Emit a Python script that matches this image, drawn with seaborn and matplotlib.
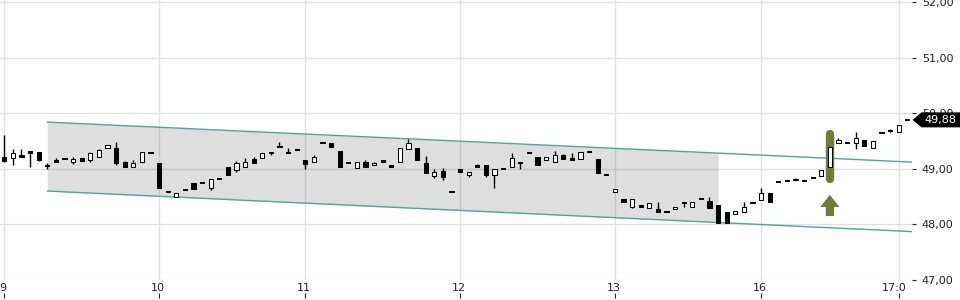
import numpy as np
import pandas as pd
import matplotlib
matplotlib.use("Agg")
import matplotlib.pyplot as plt
import seaborn as sns
from matplotlib.patches import Polygon
from matplotlib.transforms import Bbox, TransformedBbox, ScaledTranslation

# ---------------- data ----------------
open_ = [49.21, 49.19, 49.25, 49.32, 49.30, 49.07, 49.15, 49.19, 49.12, 49.19,
         49.15, 49.21, 49.37, 49.38, 49.13, 49.04, 49.13, 49.29, 49.11, 48.59,
         48.50, 48.62, 48.74, 48.75, 48.65, 48.83, 49.03, 48.97, 49.03, 49.17,
         49.19, 49.28, 49.41, 49.30, 49.34, 49.15, 49.13, 49.48, 49.46, 49.32,
         49.11, 49.01, 49.13, 49.07, 49.14, 49.07, 49.13, 49.35, 49.37, 49.10,
         48.87, 48.96, 48.59, 49.00, 48.88, 49.06, 49.07, 48.88, 49.00, 49.04,
         49.12, 49.30, 49.21, 49.15, 49.13, 49.24, 49.19, 49.17, 49.31, 49.18,
         48.89, 48.58, 48.46, 48.32, 48.33, 48.29, 48.28, 48.24, 48.27, 48.40,
         48.31, 48.46, 48.42, 48.35, 48.22, 48.18, 48.23, 48.39, 48.44, 48.56,
         48.77, 48.79, 48.81, 48.79, 48.84, 48.87, 49.04, 49.47, 49.48, 49.46,
         49.51, 49.37, 49.66, 49.69, 49.66, 49.88]
high = [49.61, 49.35, 49.35, 49.32, 49.30, 49.11, 49.19, 49.19, 49.21, 49.19,
        49.30, 49.35, 49.42, 49.49, 49.14, 49.15, 49.31, 49.29, 49.11, 48.59,
        48.56, 48.62, 48.74, 48.75, 48.81, 48.83, 49.03, 49.14, 49.19, 49.21,
        49.28, 49.31, 49.49, 49.37, 49.34, 49.15, 49.25, 49.48, 49.46, 49.32,
        49.11, 49.12, 49.16, 49.13, 49.14, 49.07, 49.37, 49.54, 49.37, 49.23,
        48.99, 49.01, 48.59, 49.00, 48.95, 49.08, 49.07, 49.00, 49.00, 49.29,
        49.13, 49.30, 49.21, 49.22, 49.32, 49.27, 49.28, 49.30, 49.32, 49.18,
        48.89, 48.63, 48.46, 48.46, 48.33, 48.38, 48.40, 48.24, 48.31, 48.40,
        48.40, 48.46, 48.49, 48.35, 48.23, 48.25, 48.40, 48.39, 48.65, 48.56,
        48.77, 48.79, 48.83, 48.79, 48.84, 48.97, 49.39, 49.55, 49.48, 49.66,
        49.51, 49.50, 49.66, 49.72, 49.79, 49.88]
low = [49.12, 49.06, 49.21, 49.04, 49.14, 49.00, 49.12, 49.18, 49.09, 49.14,
       49.12, 49.21, 49.37, 49.06, 49.03, 49.04, 49.13, 49.28, 48.66, 48.58,
       48.50, 48.61, 48.64, 48.74, 48.61, 48.82, 48.88, 48.94, 49.03, 49.10,
       49.19, 49.25, 49.39, 49.28, 49.33, 49.00, 49.13, 49.47, 49.40, 49.04,
       49.10, 49.01, 49.03, 49.07, 49.13, 49.04, 49.13, 49.35, 49.15, 48.92,
       48.83, 48.80, 48.58, 48.95, 48.86, 49.04, 48.86, 48.66, 48.99, 49.04,
       49.00, 49.29, 49.06, 49.15, 49.13, 49.18, 49.16, 49.17, 49.30, 48.93,
       48.88, 48.58, 48.41, 48.30, 48.32, 48.29, 48.23, 48.23, 48.27, 48.32,
       48.31, 48.45, 48.29, 48.03, 48.03, 48.18, 48.23, 48.38, 48.44, 48.40,
       48.76, 48.78, 48.79, 48.78, 48.83, 48.87, 49.04, 49.47, 49.47, 49.35,
       49.41, 49.37, 49.65, 49.66, 49.66, 49.87]
close = [49.14, 49.29, 49.22, 49.28, 49.16, 49.05, 49.12, 49.18, 49.18, 49.14,
         49.28, 49.33, 49.42, 49.11, 49.03, 49.11, 49.31, 49.28, 48.66, 48.58,
         48.56, 48.61, 48.64, 48.74, 48.81, 48.82, 48.88, 49.10, 49.12, 49.10,
         49.28, 49.31, 49.39, 49.28, 49.33, 49.09, 49.21, 49.47, 49.40, 49.04,
         49.10, 49.12, 49.03, 49.10, 49.13, 49.04, 49.37, 49.46, 49.15, 48.92,
         48.94, 48.86, 48.58, 48.95, 48.95, 49.04, 48.88, 49.00, 48.99, 49.19,
         49.10, 49.29, 49.06, 49.22, 49.25, 49.18, 49.16, 49.30, 49.30, 48.93,
         48.88, 48.63, 48.41, 48.46, 48.32, 48.38, 48.23, 48.23, 48.31, 48.39,
         48.40, 48.45, 48.29, 48.03, 48.03, 48.25, 48.32, 48.38, 48.56, 48.40,
         48.76, 48.78, 48.80, 48.78, 48.83, 48.97, 49.39, 49.52, 49.47, 49.56,
         49.41, 49.50, 49.65, 49.68, 49.79, 49.87]

tick_pos = [0, 18, 35, 53, 71, 88, 104]
tick_labels = ["9", "10", "11", "12", "13", "16", "17:00"]
y_ticks = [47, 48, 49, 50, 51, 52]

channel_x = [5, 105.6]
upper_channel = [49.84, 49.12]
lower_channel = [48.60, 47.87]
fill_end = 83
signal_idx = 96
signal_range = [48.82, 49.625]
arrow_range = [48.15, 48.53]
last_price = 49.88

# ---------------- style ----------------
sns.set_theme(style="white")
plt.rcParams["font.family"] = ["DejaVu Sans"]
olive = "#6f7d3a"
teal = "#5a9ea0"
txt = "#222222"

W, H = 960, 300
fig = plt.figure(figsize=(W / 100, H / 100), dpi=100)
ax_right = 912
ax = fig.add_axes([0, 20 / H, ax_right / W, 280 / H])
ax.set_facecolor("white")

# channel fill (semi-transparent, over the grid)
xs = np.linspace(channel_x[0], fill_end, 200)
up_i = np.interp(xs, channel_x, upper_channel)
lo_i = np.interp(xs, channel_x, lower_channel)
ax.fill_between(xs, lo_i, up_i, color="black", alpha=0.13, lw=0, zorder=1)

# channel lines
ch = pd.DataFrame({"x": channel_x, "upper": upper_channel, "lower": lower_channel})
sns.lineplot(data=ch, x="x", y="upper", color=teal, lw=1, ax=ax, zorder=2)
sns.lineplot(data=ch, x="x", y="lower", color=teal, lw=1, ax=ax, zorder=2)

# signal highlight + arrow
ax.plot([signal_idx, signal_idx], signal_range, lw=6, color=olive,
        solid_capstyle="round", zorder=2.5)
ax.annotate("", xy=(signal_idx, arrow_range[1]), xytext=(signal_idx, arrow_range[0]),
            arrowprops=dict(arrowstyle="simple,head_length=0.72,head_width=1.15,tail_width=0.5",
                            color=olive, lw=0, shrinkA=0, shrinkB=0), zorder=2.5)

# candles
idx = np.arange(len(open_))
o = np.array(open_)
c = np.array(close)
up = c > o
bottom = np.minimum(o, c)
height = np.maximum(np.abs(c - o), 0.02)
ax.vlines(idx, low, high, color="black", lw=1, zorder=3)
ax.bar(idx, height, bottom=bottom, width=0.5,
       color=np.where(up, "white", "black"), edgecolor="black",
       linewidth=0.75, zorder=4)

# axes
ax.set_xlim(-0.5, 105.55)
ax.set_ylim(47, 52.036)
for s in ax.spines.values():
    s.set_visible(False)
ax.grid(True, color="#e2e2e2", lw=1)
ax.set_axisbelow(True)
ax.set_xlabel("")
ax.set_ylabel("")

ax.set_xticks(tick_pos)
ax.set_xticklabels(tick_labels)
ax.tick_params(axis="x", length=0, pad=2, labelsize=8, labelcolor=txt)
ax.yaxis.tick_right()
ax.set_yticks(y_ticks)
ax.set_yticklabels([f"{v:.2f}".replace(".", ",") for v in y_ticks])
ax.tick_params(axis="y", right=True, length=3, width=0.8, color=txt, pad=4,
               labelsize=8, labelcolor=txt, direction="out")

# shift x labels slightly left and clip them before the y-axis labels
clip = TransformedBbox(Bbox([[0, -1], [905 / ax_right, 1]]), ax.transAxes)
shift = ScaledTranslation(-0.012, 0, fig.dpi_scale_trans)
for lbl in ax.get_xticklabels():
    lbl.set_transform(lbl.get_transform() + shift)
    lbl.set_clip_box(clip)
    lbl.set_clip_on(True)

# small tick marks below labels
ax.vlines(tick_pos, -0.047, -0.064, transform=ax.get_xaxis_transform(),
          clip_on=False, color=txt, lw=0.8)

# last price box
fig.canvas.draw()
yd = ax.transData.transform((0, last_price))[1]
hh = 7.5
verts = [(ax_right + 0.5, yd), (ax_right + 9.5, yd + hh), (W, yd + hh),
         (W, yd - hh), (ax_right + 9.5, yd - hh)]
verts = [(x / W, y / H) for x, y in verts]
fig.add_artist(Polygon(verts, closed=True, facecolor="black", edgecolor="none",
                       transform=fig.transFigure, zorder=5))
fig.text(940 / W, yd / H, f"{last_price:.2f}".replace(".", ","), color="white",
         ha="center", va="center", fontsize=8, zorder=6)

fig.savefig("out.png", dpi=100)
